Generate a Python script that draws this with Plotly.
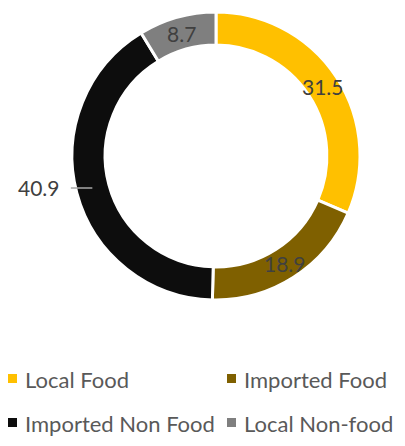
import math
import plotly.graph_objects as go

# Spending shares by origin and type
categories = ["Local Food", "Imported Food", "Imported Non Food", "Local Non-food"]
values = [31.5, 18.9, 40.9, 8.7]
colors = ["#FFC000", "#7F6000", "#0D0D0D", "#7F7F7F"]
outside_labels = ["Imported Non Food"]

W, H = 405, 446
cx, cy, R = 216, 156, 144
hole = 0.77
FONT = "Lato"


def px(x):
    return x / W


def py(y):
    return 1 - y / H


fig = go.Figure(
    go.Pie(
        labels=categories,
        values=values,
        sort=False,
        direction="clockwise",
        rotation=0,
        hole=hole,
        marker=dict(colors=colors, line=dict(color="white", width=3)),
        textinfo="none",
        hoverinfo="label+value",
        showlegend=False,
        domain=dict(x=[px(cx - R), px(cx + R)], y=[py(cy + R), py(cy - R)]),
    )
)

annotations = []
shapes = []

# value labels placed at each slice's mid-angle
total = sum(values)
acc = 0.0
r_mid = R * (1 + hole) / 2
for name, v in zip(categories, values):
    ang = (acc + v / 2) / total * 2 * math.pi
    acc += v
    sx, sy = math.sin(ang), -math.cos(ang)
    if name in outside_labels:
        r = R * 0.86
        x0, y0 = cx + r * sx, cy + r * sy
        annotations.append(dict(
            x=px(x0), y=py(y0), xref="paper", yref="paper",
            text=f"{v:g}", showarrow=True, arrowhead=0, arrowwidth=1.5,
            arrowcolor="#A6A6A6", ax=-57, ay=0, standoff=4, startstandoff=9,
            font=dict(family=FONT, size=21, color="#404040"),
        ))
    else:
        annotations.append(dict(
            x=px(cx + r_mid * sx), y=py(cy + r_mid * sy), xref="paper", yref="paper",
            xanchor="center", yanchor="middle",
            text=f"{v:g}", showarrow=False,
            font=dict(family=FONT, size=21, color="#404040"),
        ))

# two-column legend below the ring
col_x = [8, 227]
row_y = [379, 423]
for i, (name, col) in enumerate(zip(categories, colors)):
    lx = col_x[i % 2]
    ly = row_y[i // 2]
    shapes.append(dict(
        type="rect", xref="paper", yref="paper",
        x0=px(lx), x1=px(lx + 9), y0=py(ly - 5), y1=py(ly + 4),
        fillcolor=col, line=dict(width=0),
    ))
    annotations.append(dict(
        x=px(lx + 15), y=py(ly), xref="paper", yref="paper",
        xanchor="left", yanchor="middle", text=name, showarrow=False,
        font=dict(family=FONT, size=22, color="#595959"),
    ))

fig.update_layout(
    width=W, height=H,
    margin=dict(l=0, r=0, t=0, b=0),
    paper_bgcolor="white",
    plot_bgcolor="white",
    annotations=annotations,
    shapes=shapes,
)

fig.write_html("out.html")
